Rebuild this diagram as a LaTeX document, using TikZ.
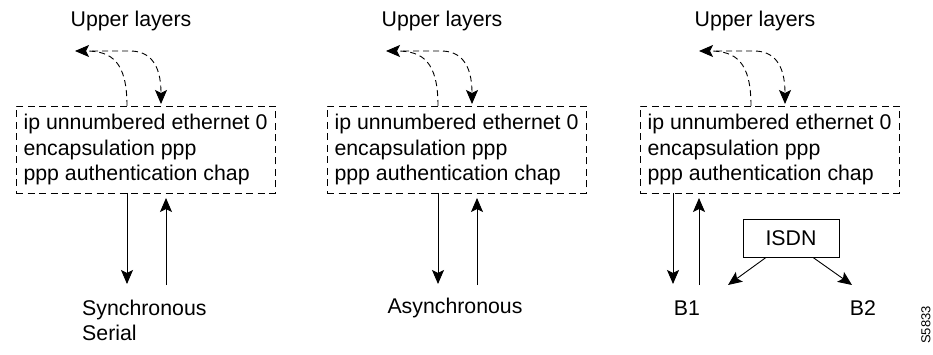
\documentclass[tikz,border=0pt]{standalone}
\usepackage{fontspec}
\setmainfont{Liberation Sans}
\usetikzlibrary{arrows.meta}
\begin{document}
\begin{tikzpicture}[x=1pt,y=-1pt,
  font=\fontsize{21.3}{25.5}\selectfont,
  cfgbox/.style={draw,dash pattern=on 7pt off 4.5pt,line width=0.9pt,minimum width=259pt,minimum height=87pt,inner sep=0pt,align=left},
  lbl/.style={inner sep=0pt,align=left},
  tip/.style={-{Stealth[length=14pt,width=12pt,inset=3pt]}},
  dflow/.style={tip,dash pattern=on 6pt off 4pt,line width=0.9pt},
  sflow/.style={tip,line width=0.9pt},
  isdnbox/.style={draw,line width=0.9pt,minimum width=96pt,minimum height=38pt,inner sep=0pt}]
\useasboundingbox (0,0) rectangle (933,355);

\foreach \i/\dx in {1/0,2/311,3/624}{
  \node[cfgbox] (box\i) at (145.5+\dx,149.5) {ip unnumbered ethernet 0\\encapsulation ppp\\ppp authentication chap};
  \node[lbl] (upper\i) at (131+\dx,21) {Upper layers};
  \coordinate (aS\i) at (127+\dx,106);
  \coordinate (aE\i) at (75+\dx,51);
  \coordinate (bS\i) at (92+\dx,51);
  \coordinate (bE\i) at (161+\dx,104);
  \draw[dflow] (aS\i) .. controls (127+\dx,62) and (112+\dx,51) .. (aE\i);
  \draw[dflow] (bS\i) -- (130+\dx,51) .. controls (148+\dx,51) and (161+\dx,62) .. (bE\i);
}

% panel 1 bottom
\coordinate (d1s) at (127,193);
\coordinate (d1e) at (127,284);
\coordinate (u1s) at (166,285);
\coordinate (u1e) at (166,198);
\draw[sflow] (d1s) -- (d1e);
\draw[sflow] (u1s) -- (u1e);
\node[lbl,anchor=west] (sync) at (82,320.5) {Synchronous\\Serial};

% panel 2 bottom
\coordinate (d2s) at (438,193);
\coordinate (d2e) at (438,284);
\coordinate (u2s) at (477,285);
\coordinate (u2e) at (477,198);
\draw[sflow] (d2s) -- (d2e);
\draw[sflow] (u2s) -- (u2e);
\node[lbl] (async) at (455,308) {Asynchronous};

% panel 3 bottom
\coordinate (d3s) at (673,193);
\coordinate (d3e) at (673,284);
\coordinate (u3s) at (699,285);
\coordinate (u3e) at (699,198);
\draw[sflow] (d3s) -- (d3e);
\draw[sflow] (u3s) -- (u3e);
\node[lbl] (b1) at (687,308) {B1};
\node[lbl] (b2) at (863,308) {B2};
\node[isdnbox] (isdn) at (791,238) {ISDN};
\coordinate (i1) at (728,285);
\coordinate (i2) at (852,285);
\draw[sflow] (isdn.south -| 766,0) -- (i1);
\draw[sflow] (isdn.south -| 813,0) -- (i2);

\node[lbl,rotate=90,font=\fontsize{13}{13}\selectfont] (figid) at (926,325) {S5833};
\end{tikzpicture}
\end{document}
